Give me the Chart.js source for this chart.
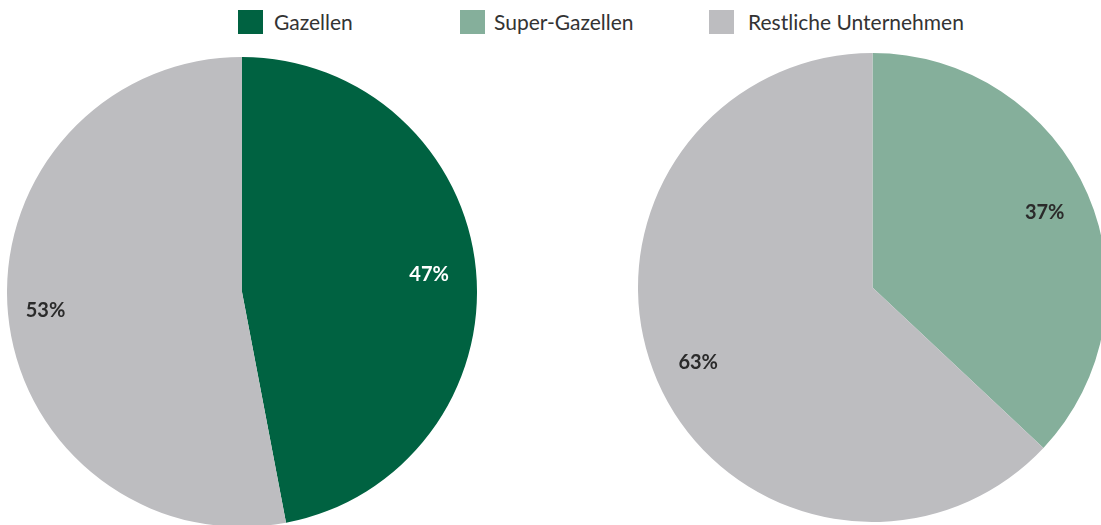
<!DOCTYPE html>
<html lang="de">

<head>
  <meta charset="UTF-8">
  <meta name="viewport" content="width=device-width, initial-scale=1.0">
  <title>Gazellen</title>
  <script src="https://cdn.jsdelivr.net/npm/chart.js@4.4.0/dist/chart.umd.min.js"></script>
  <style>
    html, body { margin: 0; padding: 0; background: #fff; overflow: hidden; }
    body { width: 1101px; height: 525px; position: relative; font-family: Lato, "Noto Sans", sans-serif; }
    .legend { position: absolute; top: 10px; left: 0; height: 24px; }
    .legend .box { position: absolute; top: 0; width: 25px; height: 24px; }
    .legend .txt { position: absolute; top: 0; white-space: nowrap; font-size: 21px; line-height: 24px; color: #333; }
    .pie { position: absolute; }
  </style>
</head>

<body>
  <div class="legend" id="legend"></div>
  <div class="pie" style="left:7px; top:57px; width:470px; height:470px;"><canvas id="left"></canvas></div>
  <div class="pie" style="left:638px; top:53px; width:469px; height:469px;"><canvas id="right"></canvas></div>

  <script>
    // data
    const legendLabels = ['Gazellen', 'Super-Gazellen', 'Restliche Unternehmen'];
    const legendColors = ['#006241', '#85AF9B', '#BDBDC0'];

    const leftLabels = ['Gazellen', 'Restliche Unternehmen'];
    const leftValues = [47, 53];
    const leftColors = ['#006241', '#BDBDC0'];
    const leftTextColors = ['#ffffff', '#2b2b2b'];

    const rightLabels = ['Super-Gazellen', 'Restliche Unternehmen'];
    const rightValues = [37, 63];
    const rightColors = ['#85AF9B', '#BDBDC0'];
    const rightTextColors = ['#2b2b2b', '#2b2b2b'];

    // html legend
    const boxX = [238, 460, 709];
    const textX = [274, 494, 748];
    const legend = document.getElementById('legend');
    legendLabels.forEach((lbl, i) => {
      const box = document.createElement('div');
      box.className = 'box';
      box.style.left = boxX[i] + 'px';
      box.style.background = legendColors[i];
      legend.appendChild(box);
      const txt = document.createElement('div');
      txt.className = 'txt';
      txt.style.left = textX[i] + 'px';
      txt.textContent = lbl;
      legend.appendChild(txt);
    });

    // percent labels inside slices
    const sliceLabels = {
      id: 'sliceLabels',
      afterDatasetsDraw(chart, args, opts) {
        const ctx = chart.ctx;
        const meta = chart.getDatasetMeta(0);
        const values = chart.data.datasets[0].data;
        ctx.save();
        ctx.font = 'bold 20px Lato, "Noto Sans", sans-serif';
        ctx.textAlign = 'center';
        ctx.textBaseline = 'middle';
        meta.data.forEach((arc, i) => {
          const p = arc.getProps(['x', 'y', 'startAngle', 'endAngle', 'outerRadius'], true);
          const mid = (p.startAngle + p.endAngle) / 2;
          const r = p.outerRadius * opts.dist[i];
          ctx.fillStyle = opts.colors[i];
          ctx.fillText(values[i] + '%', p.x + Math.cos(mid) * r, p.y + Math.sin(mid) * r);
        });
        ctx.restore();
      }
    };

    function makePie(id, labels, values, colors, textColors, dist) {
      return new Chart(document.getElementById(id), {
        type: 'pie',
        data: {
          labels: labels,
          datasets: [{
            data: values,
            backgroundColor: colors,
            borderWidth: 0
          }]
        },
        options: {
          responsive: true,
          maintainAspectRatio: false,
          animation: false,
          layout: { padding: 0 },
          plugins: {
            legend: { display: false },
            tooltip: { enabled: false },
            sliceLabels: { colors: textColors, dist: dist }
          }
        },
        plugins: [sliceLabels]
      });
    }

    makePie('left', leftLabels, leftValues, leftColors, leftTextColors, [0.8, 0.84]);
    makePie('right', rightLabels, rightValues, rightColors, rightTextColors, [0.8, 0.81]);
  </script>
</body>

</html>
